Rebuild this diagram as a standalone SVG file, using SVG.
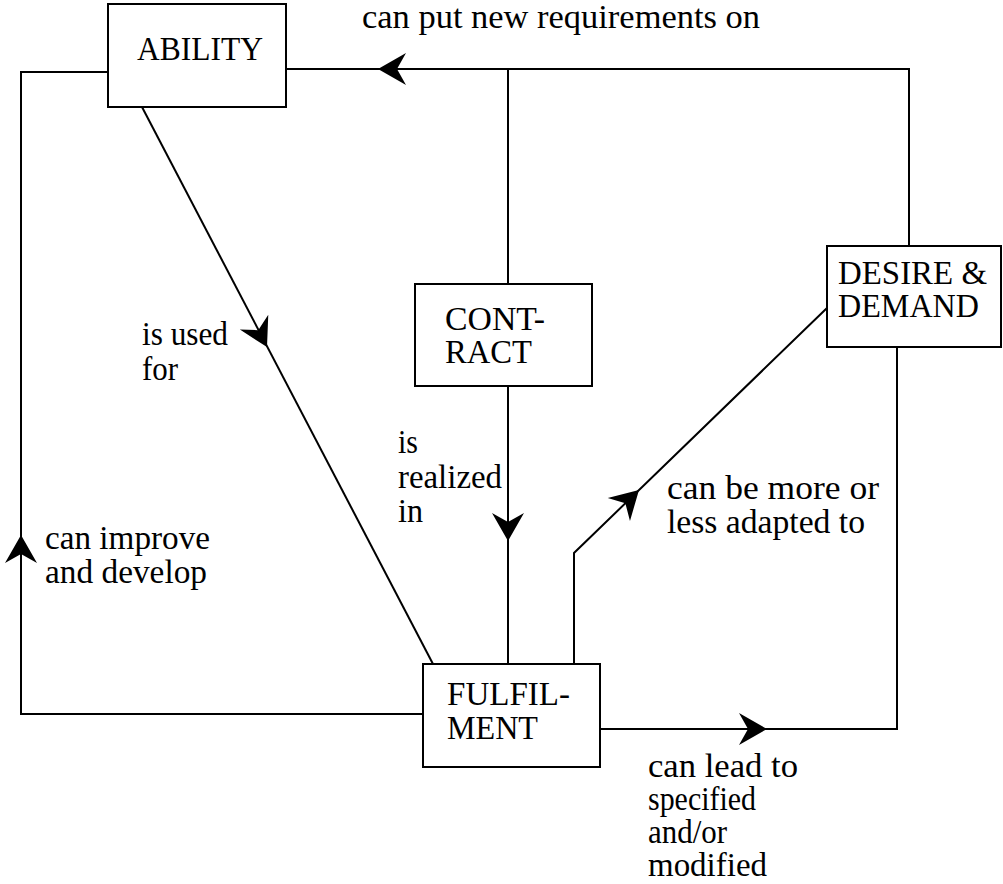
<svg xmlns="http://www.w3.org/2000/svg" xmlns:xlink="http://www.w3.org/1999/xlink" width="1003" height="884" viewBox="0 0 1003 884">
<style>
.box{fill:#fff;stroke:#000;stroke-width:2}
.ln{fill:none;stroke:#000;stroke-width:2}
.t{font-family:'Liberation Serif','Times New Roman',serif;font-size:33px;fill:#000}
</style>
<defs>
<path id="ah" d="M0,0 L-28,-16 L-19,0 L-28,16 Z" fill="#000"/>
</defs>
<rect width="1003" height="884" fill="#fff"/>
<g id="connectors">
<polyline class="ln" points="286,69 909,69 909,246"/>
<line class="ln" x1="508" y1="69" x2="508" y2="284"/>
<line class="ln" x1="508" y1="386" x2="508" y2="664"/>
<polyline class="ln" points="423,714 21,714 21,72 108,72"/>
<line class="ln" x1="142" y1="107" x2="433" y2="664"/>
<polyline class="ln" points="600,729 897,729 897,347"/>
<polyline class="ln" points="574,664 574,553 827,308"/>
<use xlink:href="#ah" transform="translate(378,69) rotate(180)"/>
<use xlink:href="#ah" transform="translate(508,541) rotate(90)"/>
<use xlink:href="#ah" transform="translate(21,535) rotate(-90)"/>
<use xlink:href="#ah" transform="translate(267,347) rotate(62.5)"/>
<use xlink:href="#ah" transform="translate(767,729)"/>
<use xlink:href="#ah" transform="translate(639,490) rotate(-44)"/>
<text class="t" x="362" y="28" textLength="398" lengthAdjust="spacingAndGlyphs">can put new requirements on</text>
<text class="t" x="142" y="345" textLength="86" lengthAdjust="spacingAndGlyphs">is used</text>
<text class="t" x="142" y="380" textLength="36" lengthAdjust="spacingAndGlyphs">for</text>
<text class="t" x="398" y="453" textLength="20" lengthAdjust="spacingAndGlyphs">is</text>
<text class="t" x="398" y="488" textLength="104" lengthAdjust="spacingAndGlyphs">realized</text>
<text class="t" x="398" y="522" textLength="25" lengthAdjust="spacingAndGlyphs">in</text>
<text class="t" x="667" y="499" textLength="212" lengthAdjust="spacingAndGlyphs">can be more or</text>
<text class="t" x="667" y="533" textLength="198" lengthAdjust="spacingAndGlyphs">less adapted to</text>
<text class="t" x="45" y="549" textLength="165" lengthAdjust="spacingAndGlyphs">can improve</text>
<text class="t" x="45" y="583" textLength="162" lengthAdjust="spacingAndGlyphs">and develop</text>
<text class="t" x="648" y="777" textLength="150" lengthAdjust="spacingAndGlyphs">can lead to</text>
<text class="t" x="648" y="810" textLength="108" lengthAdjust="spacingAndGlyphs">specified</text>
<text class="t" x="648" y="843" textLength="79" lengthAdjust="spacingAndGlyphs">and/or</text>
<text class="t" x="648" y="876" textLength="119" lengthAdjust="spacingAndGlyphs">modified</text>
</g>
<g id="ability">
<rect class="box" x="108" y="4" width="178" height="103"/>
<text class="t" x="137" y="60" textLength="126" lengthAdjust="spacingAndGlyphs">ABILITY</text>
</g>
<g id="contract">
<rect class="box" x="415" y="284" width="177" height="102"/>
<text class="t" x="445" y="330" textLength="100" lengthAdjust="spacingAndGlyphs">CONT-</text>
<text class="t" x="445" y="363" textLength="87" lengthAdjust="spacingAndGlyphs">RACT</text>
</g>
<g id="desire">
<rect class="box" x="827" y="246" width="174" height="101"/>
<text class="t" x="838" y="284" textLength="149" lengthAdjust="spacingAndGlyphs">DESIRE &amp;</text>
<text class="t" x="838" y="317" textLength="141" lengthAdjust="spacingAndGlyphs">DEMAND</text>
</g>
<g id="fulfilment">
<rect class="box" x="423" y="664" width="177" height="103"/>
<text class="t" x="447" y="705" textLength="123" lengthAdjust="spacingAndGlyphs">FULFIL-</text>
<text class="t" x="447" y="739" textLength="91" lengthAdjust="spacingAndGlyphs">MENT</text>
</g>
</svg>
